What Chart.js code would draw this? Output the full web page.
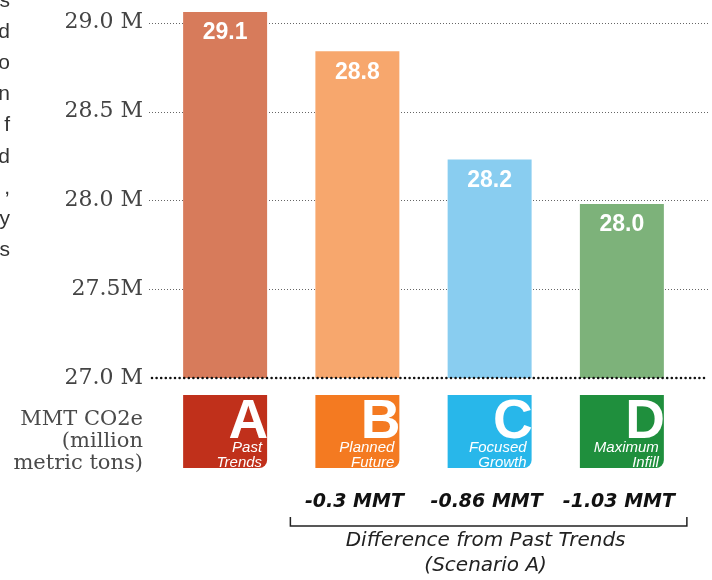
<!DOCTYPE html>
<html>
<head>
<meta charset="utf-8">
<script src="https://cdn.jsdelivr.net/npm/chart.js@4/dist/chart.umd.min.js"></script>
<style>
  html, body { margin: 0; padding: 0; background: #fff; }
  #wrap { position: relative; width: 712px; height: 580px; overflow: hidden; }
  #c { position: absolute; left: 0; top: 0; }
  #side { position: absolute; left: -100px; top: -16.5px; width: 110px; text-align: right;
          font: 21px "Liberation Sans", Arial, sans-serif; line-height: 31.2px; color: #333; white-space: pre; }
</style>
</head>
<body>
<div id="wrap">
  <canvas id="c" width="712" height="580"></canvas>
  <div id="side"></div>
</div>
<script>
// ---- data ----
const categories = ["A", "B", "C", "D"];
const scenarioNames = [["Past", "Trends"], ["Planned", "Future"], ["Focused", "Growth"], ["Maximum", "Infill"]];
const emissions = [29.06, 28.84, 28.23, 27.98];
const differenceLabels = ["", "-0.3 MMT", "-0.86 MMT", "-1.03 MMT"];
const tickValues = [27.0, 27.5, 28.0, 28.5, 29.0];
const tickLabels = ["27.0 M", "27.5M", "28.0 M", "28.5 M", "29.0 M"];
const yTitleLines = ["MMT CO2e", "(million", "metric tons)"];
const captionLines = ["Difference from Past Trends", "(Scenario A)"];
const sideFragments = ["s", "d", "o", "n", "f", "d", ",", "y", "s"];

// ---- styles ----
const barColors = ["#D77B5B", "#F7A76D", "#89CDF0", "#7DB27A"];
const boxColors = ["#C0301B", "#F47A21", "#28B7EA", "#1F8F3D"];
const serif = '"DejaVu Serif", serif';
const sans = '"Liberation Sans", Arial, sans-serif';
const dejaSans = '"DejaVu Sans", sans-serif';

document.getElementById('side').textContent = sideFragments.join("\n");

const deco = {
  id: 'deco',
  beforeDatasetsDraw(chart) {
    const { ctx, scales: { y } } = chart;
    ctx.save();
    ctx.strokeStyle = '#666';
    ctx.lineWidth = 1;
    ctx.setLineDash([1, 2]);
    y.ticks.forEach(t => {
      if (t.value === tickValues[0]) return;
      const py = Math.round(y.getPixelForValue(t.value)) + 0.5;
      ctx.beginPath();
      ctx.moveTo(y.right - 10, py);
      ctx.lineTo(chart.width - 4, py);
      ctx.stroke();
    });
    ctx.restore();
  },
  afterDatasetsDraw(chart) {
    const { ctx, scales: { y } } = chart;
    const meta = chart.getDatasetMeta(0);
    const base = y.getPixelForValue(tickValues[0]);
    ctx.save();

    // baseline (bold dotted)
    ctx.strokeStyle = '#111';
    ctx.lineWidth = 2.6;
    ctx.lineCap = 'round';
    ctx.setLineDash([0, 4.6]);
    ctx.beginPath();
    ctx.moveTo(y.right - 7, base);
    ctx.lineTo(chart.width - 4, base);
    ctx.stroke();
    ctx.setLineDash([]);
    ctx.lineCap = 'butt';

    // value labels
    ctx.fillStyle = '#fff';
    ctx.font = 'bold 23px ' + sans;
    ctx.textAlign = 'center';
    ctx.textBaseline = 'middle';
    meta.data.forEach((b, i) => {
      ctx.fillText(emissions[i].toFixed(1), b.x, b.y + 21);
    });

    // scenario boxes
    ctx.textBaseline = 'alphabetic';
    meta.data.forEach((b, i) => {
      const l = b.x - b.width / 2, r = b.x + b.width / 2;
      const t = base + 17, bt = base + 90;
      ctx.fillStyle = boxColors[i];
      ctx.beginPath();
      ctx.roundRect(l, t, r - l, bt - t, [0, 0, 8, 0]);
      ctx.fill();
      ctx.fillStyle = '#fff';
      ctx.textAlign = 'right';
      ctx.font = 'bold 55px ' + sans;
      ctx.fillText(categories[i], r + 1, base + 60);
      ctx.font = 'italic 15px ' + sans;
      ctx.fillText(scenarioNames[i][0], r - 5, base + 74);
      ctx.fillText(scenarioNames[i][1], r - 5, base + 89);
    });

    // y title
    ctx.fillStyle = '#4a4a4a';
    ctx.textAlign = 'right';
    ctx.font = '21px ' + serif;
    yTitleLines.forEach((s, k) => ctx.fillText(s, y.right - 16, base + 47 + k * 22));

    // difference labels
    ctx.fillStyle = '#111';
    ctx.textAlign = 'center';
    ctx.font = 'bold oblique 19px ' + dejaSans;
    meta.data.forEach((b, i) => {
      if (differenceLabels[i]) ctx.fillText(differenceLabels[i], b.x - 3, base + 129);
    });

    // bracket
    const bl = meta.data[1].x - 67, br = meta.data[3].x + 65;
    ctx.strokeStyle = '#222';
    ctx.lineWidth = 1.5;
    ctx.beginPath();
    ctx.moveTo(bl, base + 139);
    ctx.lineTo(bl, base + 148);
    ctx.lineTo(br, base + 148);
    ctx.lineTo(br, base + 139);
    ctx.stroke();

    // caption
    ctx.fillStyle = '#222';
    ctx.font = 'oblique 20px ' + dejaSans;
    const cx = (bl + br) / 2 - 3;
    ctx.fillText(captionLines[0], cx, base + 168);
    ctx.fillText(captionLines[1], cx, base + 193);
    ctx.restore();
  }
};

new Chart(document.getElementById('c'), {
  type: 'bar',
  data: {
    labels: categories,
    datasets: [{
      data: emissions,
      backgroundColor: barColors,
      borderWidth: 0,
      categoryPercentage: 1,
      barPercentage: 0.635
    }]
  },
  options: {
    responsive: false,
    animation: false,
    events: [],
    layout: { padding: { left: 0, right: 24, top: 5, bottom: 202 } },
    plugins: { legend: { display: false }, tooltip: { enabled: false } },
    scales: {
      x: { display: false },
      y: {
        min: 27.0,
        max: 29.1,
        grid: { display: false, drawTicks: false },
        border: { display: false },
        afterBuildTicks: s => { s.ticks = tickValues.map(v => ({ value: v })); },
        afterFit: s => { s.width = 159; s.paddingTop = 0; s.paddingBottom = 0; },
        ticks: {
          padding: 16,
          color: '#444',
          font: { family: serif, size: 22 },
          callback: v => {
            const k = tickValues.findIndex(t => Math.abs(t - v) < 1e-6);
            return k >= 0 ? tickLabels[k] : '';
          }
        }
      }
    }
  },
  plugins: [deco]
});
</script>
</body>
</html>
